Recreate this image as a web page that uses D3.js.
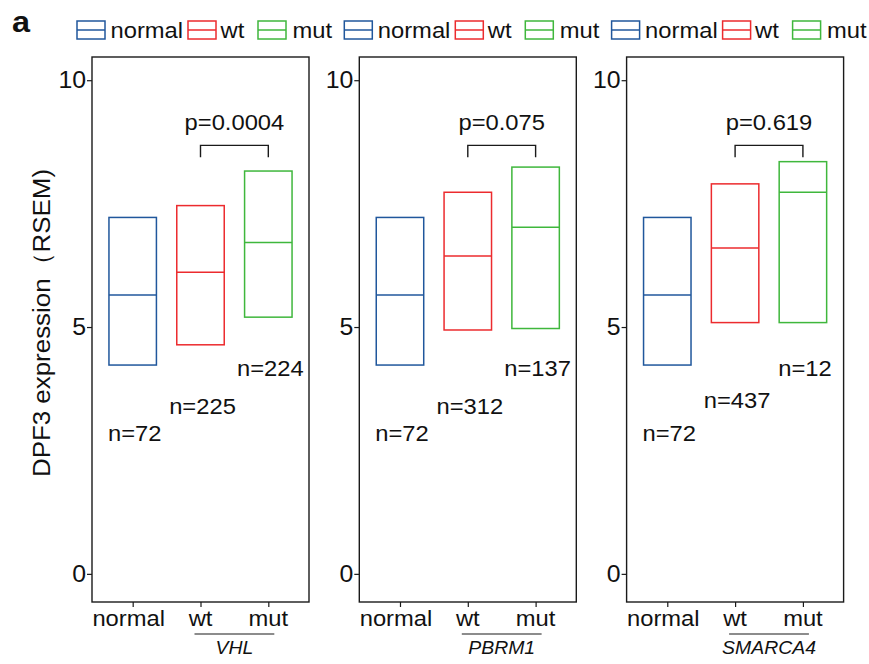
<!DOCTYPE html>
<html>
<head>
<meta charset="utf-8">
<script src="https://cdn.jsdelivr.net/npm/d3@7"></script>
<style>
  body { margin: 0; background: #fff; }
  text { font-family: "Liberation Sans", Arial, sans-serif; fill: #111; }
</style>
</head>
<body>
<div id="chart"></div>
<script>
const width = 869;
const height = 664;

// data
const genes = ["VHL", "PBRM1", "SMARCA4"];
const groups = ["normal", "wt", "mut"];
const colors = ["#20579c", "#ec2b2e", "#3fb73c"];
const boxLow = [[4.23, 4.64, 5.20], [4.23, 4.94, 4.97], [4.23, 5.09, 5.09]];
const boxMid = [[5.65, 6.11, 6.71], [5.65, 6.44, 7.02], [5.65, 6.60, 7.73]];
const boxHigh = [[7.22, 7.46, 8.16], [7.22, 7.73, 8.24], [7.22, 7.90, 8.35]];
const nCounts = [[72, 225, 224], [72, 312, 137], [72, 437, 12]];
const nLabelY = [[2.69, 3.24, 4.0], [2.69, 3.24, 4.0], [2.69, 3.35, 4.0]];
const pValues = ["0.0004", "0.075", "0.619"];
const yTicks = [0, 5, 10];

const panelLeft = 92;
const panelStep = 267.3;
const panelWidth = 217;
const panelTop = 57;
const panelBottom = 602;
const sx = 1.08; // the text in the figure is slightly stretched horizontally

const svg = d3.create("svg")
    .attr("width", width)
    .attr("height", height);

function label(g, x, y, s, anchor, size, opts = {}) {
    return g.append("text")
        .attr("transform", `translate(${x},${y}) ${opts.rotate ? "rotate(-90)" : ""} scale(${sx},1)`)
        .attr("text-anchor", anchor)
        .attr("font-size", size)
        .attr("font-style", opts.italic ? "italic" : null)
        .attr("font-weight", opts.bold ? "bold" : null)
        .text(s);
}

const yScale = d3.scaleLinear()
    .domain([-0.57, 10.47])
    .range([panelBottom, panelTop]);

label(svg, 12, 32, "a", "start", 30, { bold: true });
label(svg, 50, 323, "DPF3 expression（RSEM)", "middle", 24, { rotate: true });

genes.forEach((gene, i) => {
    const x0 = panelLeft + i * panelStep;
    const g = svg.append("g");

    const xScale = d3.scalePoint()
        .domain(groups)
        .range([x0, x0 + panelWidth])
        .padding(0.6);
    const boxW = xScale.step() * 0.7;

    // legend above each panel
    const legendX = [0, 111, 181];
    const legendTextX = [33.5, 143.5, 215.5];
    groups.forEach((grp, j) => {
        const lx = x0 - 15 + legendX[j];
        g.append("rect")
            .attr("x", lx).attr("y", 21)
            .attr("width", 28).attr("height", 18)
            .attr("fill", "none")
            .attr("stroke", colors[j])
            .attr("stroke-width", 1.5);
        g.append("line")
            .attr("x1", lx).attr("x2", lx + 28)
            .attr("y1", 30).attr("y2", 30)
            .attr("stroke", colors[j])
            .attr("stroke-width", 1.5);
        label(g, x0 - 15 + legendTextX[j], 37.5, grp, "start", 22);
    });

    // frame
    g.append("rect")
        .attr("x", x0).attr("y", panelTop)
        .attr("width", panelWidth).attr("height", panelBottom - panelTop)
        .attr("fill", "none")
        .attr("stroke", "#1a1a1a")
        .attr("stroke-width", 1.4);

    // y axis
    const yAxis = g.append("g")
        .attr("transform", `translate(${x0},0)`)
        .call(d3.axisLeft(yScale).tickValues(yTicks).tickSize(5).tickFormat(""));
    yAxis.select(".domain").remove();
    yAxis.selectAll("line").attr("stroke", "#1a1a1a").attr("stroke-width", 1.2);
    yTicks.forEach(t => label(g, x0 - 6, yScale(t) + 8, t, "end", 23));

    // x axis
    const xAxis = g.append("g")
        .attr("transform", `translate(0,${panelBottom})`)
        .call(d3.axisBottom(xScale).tickSize(5).tickFormat(""));
    xAxis.select(".domain").remove();
    xAxis.selectAll("line").attr("stroke", "#1a1a1a").attr("stroke-width", 1.2);
    groups.forEach((grp, j) => label(g, xScale(grp) - (j === 0 ? 4 : 0), 626, grp, "middle", 22));

    g.append("line")
        .attr("x1", xScale("wt") - 6).attr("x2", xScale("mut") + 6)
        .attr("y1", 634).attr("y2", 634)
        .attr("stroke", "#1a1a1a")
        .attr("stroke-width", 1.2);
    label(g, (xScale("wt") + xScale("mut")) / 2, 654, gene, "middle", 18, { italic: true });

    // boxes
    groups.forEach((grp, j) => {
        const cx = xScale(grp);
        g.append("rect")
            .attr("x", cx - boxW / 2)
            .attr("y", yScale(boxHigh[i][j]))
            .attr("width", boxW)
            .attr("height", yScale(boxLow[i][j]) - yScale(boxHigh[i][j]))
            .attr("fill", "none")
            .attr("stroke", colors[j])
            .attr("stroke-width", 1.5);
        g.append("line")
            .attr("x1", cx - boxW / 2).attr("x2", cx + boxW / 2)
            .attr("y1", yScale(boxMid[i][j])).attr("y2", yScale(boxMid[i][j]))
            .attr("stroke", colors[j])
            .attr("stroke-width", 1.5);
        label(g, cx + 2, yScale(nLabelY[i][j]), "n=" + nCounts[i][j], "middle", 22);
    });

    // significance bracket
    const bx1 = xScale("wt");
    const bx2 = xScale("mut");
    g.append("path")
        .attr("d", `M${bx1},${yScale(8.44)}V${yScale(8.68)}H${bx2}V${yScale(8.44)}`)
        .attr("fill", "none")
        .attr("stroke", "#1a1a1a")
        .attr("stroke-width", 1.4);
    label(g, (bx1 + bx2) / 2, yScale(8.99), "p=" + pValues[i], "middle", 22);
});

d3.select("#chart").append(() => svg.node());
</script>
</body>
</html>
